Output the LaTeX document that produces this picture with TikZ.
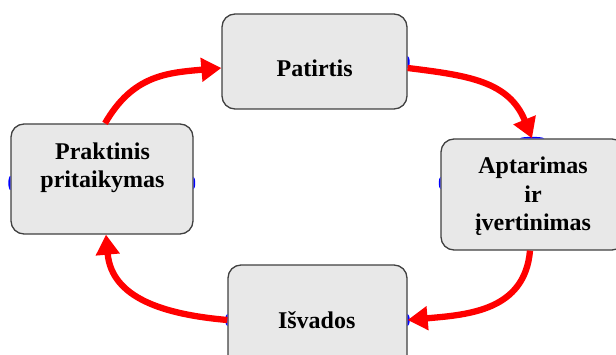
\documentclass[tikz,border=0pt]{standalone}
\usepackage{fontspec}
\setmainfont{Liberation Serif}
\usetikzlibrary{arrows.meta}
\definecolor{boxfill}{HTML}{E8E8E8}
\definecolor{boxline}{HTML}{404040}
\begin{document}
\begin{tikzpicture}[x=1pt,y=1pt,
  box/.style={draw=boxline, line width=1.3pt, fill=boxfill, rounded corners=13pt, inner sep=0pt},
  lbl/.style={font=\fontsize{24}{28.5}\selectfont\bfseries, align=center, inner sep=0pt, text=black},
  arr/.style={draw=red, line width=6.3pt, looseness=1.1, -{Triangle[length=20pt,width=23pt]}},
  cpv/.style={fill=blue, draw=none},
]
\useasboundingbox (0,0) rectangle (616,354);
% boxes
\node[box, minimum width=185pt, minimum height=95pt]  (pat)  at (314.5,292.5) {};
\node[box, minimum width=184pt, minimum height=111pt] (apt)  at (533,159.5) {};
\node[box, minimum width=179pt, minimum height=110pt] (isv)  at (317.5,34) {};
\node[box, minimum width=182pt, minimum height=110pt] (prak) at (102,175) {};
% labels
\node[lbl] (patT)  at (314.7,286) {Patirtis};
\node[lbl] (aptT)  at (533,157.5) {Aptarimas\\ir\\įvertinimas};
\node[lbl] (isvT)  at (316.7,34) {Išvados};
\node[lbl] (prakT) at (102.5,186) {Praktinis\\pritaikymas};
% connection marks
\fill[cpv] ([yshift=-0.5pt]pat.east) ++(0,6) arc[start angle=90,end angle=-90,x radius=2,y radius=6] -- cycle;
\fill[cpv] ([xshift=-1pt]apt.north) ++(-12,0) arc[start angle=180,end angle=0,x radius=12,y radius=1.5] -- cycle;
\fill[cpv] ([yshift=11.5pt]apt.west) ++(0,6) arc[start angle=90,end angle=270,x radius=1.5,y radius=6] -- cycle;
\fill[cpv] (isv.west) ++(0,6) arc[start angle=90,end angle=270,x radius=2,y radius=6] -- cycle;
\fill[cpv] (isv.east) ++(0,6) arc[start angle=90,end angle=-90,x radius=2,y radius=6] -- cycle;
\fill[cpv] ([yshift=-4pt]prak.west) ++(0,7) arc[start angle=90,end angle=270,x radius=2,y radius=7] -- cycle;
\fill[cpv] ([yshift=-4pt]prak.east) ++(0,6) arc[start angle=90,end angle=-90,x radius=1.5,y radius=6] -- cycle;
% arrows
\draw[arr] ([yshift=-6.5pt]pat.east) to[out=-7,in=112] ([xshift=-1pt]apt.north);
\draw[arr] ([xshift=-3pt]apt.south) to[out=-95,in=5] (isv.east);
\draw[arr] (isv.west) to[out=175,in=-85] ([xshift=4pt]prak.south);
\draw[arr] ([xshift=3pt]prak.north) to[out=60,in=185] ([yshift=-6.5pt]pat.west);
\end{tikzpicture}
\end{document}
